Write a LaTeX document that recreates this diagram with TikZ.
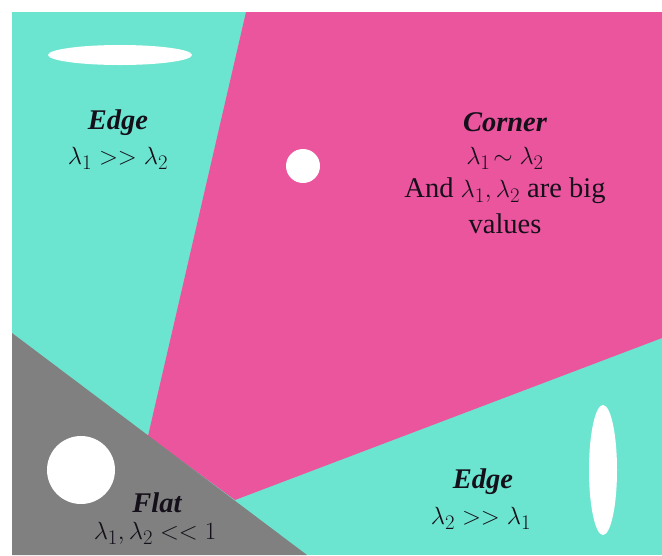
\documentclass[tikz,border=0pt]{standalone}
\usepackage{fontspec}
\setmainfont{Liberation Serif}
\usetikzlibrary{positioning}
\definecolor{tealzone}{RGB}{108,229,208}
\definecolor{pinkzone}{RGB}{235,85,158}
\definecolor{grayzone}{RGB}{128,128,128}
\definecolor{inktext}{RGB}{20,15,25}

\begin{document}
\begin{tikzpicture}[
    x=1pt, y=-1pt,
    lbl/.style={text=inktext, align=center, font=\fontsize{28.5}{34}\selectfont, inner sep=0pt},
    ttl/.style={lbl, font=\fontsize{28.5}{34}\selectfont\bfseries\itshape},
    blob/.style={fill=white, draw=none},
]
\useasboundingbox (0,0) rectangle (662,555);
\fill[white] (0,0) rectangle (662,555);

% regions
\fill[tealzone] (12,12) rectangle (662,555);
\fill[pinkzone] (246,12) -- (662,12) -- (662,338) -- (235,500) -- (148,436) -- cycle;
\fill[grayzone] (12,333) -- (307,555) -- (12,555) -- cycle;

% eigen-ellipses
\fill[blob] (120,55) ellipse [x radius=72, y radius=10];
\fill[blob] (303,166) circle [radius=17];
\fill[blob] (81,470) circle [radius=34];
\fill[blob] (603,470) ellipse [x radius=14, y radius=65];

% labels
\node[ttl] (edgeA) at (118,123) {Edge};
\node[lbl] (edgeAeq) at (118,158) {$\lambda_1 >> \lambda_2$};

\node[ttl] (corner) at (505,122) {Corner};
\node[lbl] (cornereq) at (505,158) {$\lambda_1\!\sim \lambda_2$};
\node[lbl] (cornerbig) at (505,191) {And $\lambda_1, \lambda_2$ are big};
\node[lbl] (cornerval) at (505,224) {values};

\node[ttl] (flat) at (157,503) {Flat};
\node[lbl] (flateq) at (155,533) {$\lambda_1, \lambda_2 << 1$};

\node[ttl] (edgeB) at (483,482) {Edge};
\node[lbl] (edgeBeq) at (481,518) {$\lambda_2 >> \lambda_1$};
\end{tikzpicture}
\end{document}
